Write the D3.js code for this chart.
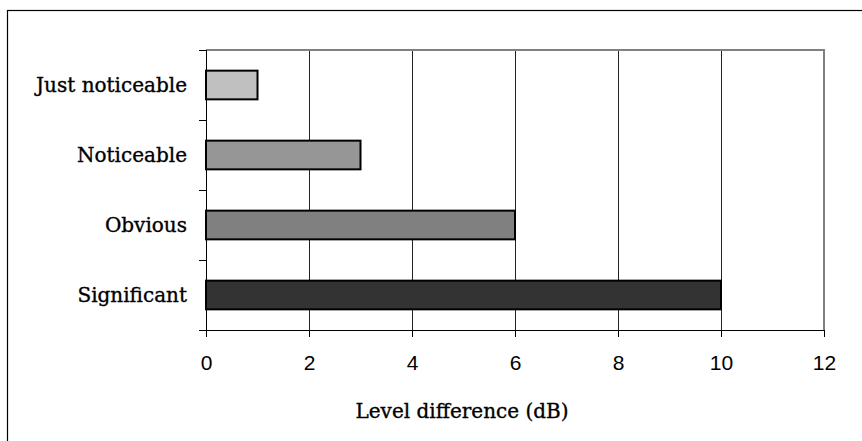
<!DOCTYPE html>
<html><head><meta charset="utf-8">
<script src="https://cdn.jsdelivr.net/npm/d3@7"></script>
<style>body{margin:0;background:#fff}svg{display:block}</style>
</head><body>
<svg id="c" width="862" height="441"></svg>
<script>
const categories = ["Just noticeable", "Noticeable", "Obvious", "Significant"];
const values = [1, 3, 6, 10];
const colors = ["#c0c0c0", "#969696", "#808080", "#333333"];
const xTicks = [0, 2, 4, 6, 8, 10, 12];
const xTitle = "Level difference (dB)";

const svg = d3.select("#c");
const L = 206, R = 824, T = 50, B = 330;

svg.append("rect").attr("x", 7.5).attr("y", 10.5).attr("width", 900).attr("height", 500)
  .attr("fill", "none").attr("stroke", "#000").attr("stroke-width", 1.2);

const x = d3.scaleLinear().domain([0, 12]).range([L, R]);
const y = d3.scaleBand().domain(categories).range([T, B]).padding(0);

// gridlines
svg.append("g").selectAll("line").data(xTicks.filter(t => t > 0 && t < 12)).join("line")
  .attr("x1", d => Math.round(x(d)) + 0.5).attr("x2", d => Math.round(x(d)) + 0.5)
  .attr("y1", T).attr("y2", B).attr("stroke", "#222").attr("stroke-width", 1);

// top & right border gray
svg.append("path").attr("d", `M${L},${T} H${R} V${B}`).attr("fill", "none")
  .attr("stroke", "#808080").attr("stroke-width", 2);

// bars
const bh = y.bandwidth() * 0.41;
svg.append("g").selectAll("rect").data(categories).join("rect")
  .attr("x", x(0)).attr("y", (d) => y(d) + y.bandwidth() / 2 - bh / 2)
  .attr("width", (d, i) => x(values[i]) - x(0)).attr("height", bh)
  .attr("fill", (d, i) => colors[i]).attr("stroke", "#000").attr("stroke-width", 2);

// x axis
const xAxis = d3.axisBottom(x).tickValues(xTicks).tickSize(7).tickPadding(18).tickFormat(d3.format("d"));
const gx = svg.append("g").attr("transform", `translate(0,${B})`).call(xAxis)
  .attr("font-family", "'Liberation Sans', Arial, sans-serif").attr("font-size", 21);
gx.select(".domain").attr("d", `M${L},0.5H${R}`).attr("stroke", "#000");
gx.selectAll(".tick line").attr("stroke", "#000");
gx.selectAll(".tick text").attr("fill", "#000");

// y axis: ticks at band boundaries
const bounds = categories.map(c => y(c)).concat([B]);
svg.append("line").attr("x1", L + 0.5).attr("x2", L + 0.5).attr("y1", T).attr("y2", B).attr("stroke", "#000");
svg.append("g").selectAll("line").data(bounds).join("line")
  .attr("x1", L - 7).attr("x2", L).attr("y1", d => Math.round(d) + 0.5).attr("y2", d => Math.round(d) + 0.5)
  .attr("stroke", "#000");

svg.append("g").selectAll("text").data(categories).join("text")
  .attr("x", 187).attr("y", d => y(d) + y.bandwidth() / 2 + 7)
  .attr("text-anchor", "end").attr("font-family", "'DejaVu Serif', serif").attr("font-size", 20)
  .attr("fill", "#000").attr("stroke", "#000").attr("stroke-width", 0.35).text(d => d);

svg.append("text").attr("x", 462).attr("y", 418).attr("text-anchor", "middle")
  .attr("font-family", "'DejaVu Serif', serif").attr("font-size", 20).attr("fill", "#000")
  .attr("stroke", "#000").attr("stroke-width", 0.35).text(xTitle);
</script>
</body></html>
